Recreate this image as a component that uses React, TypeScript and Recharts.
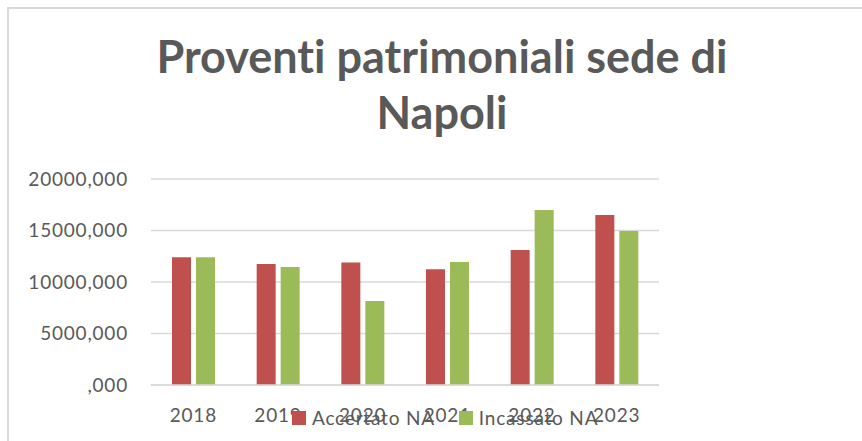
import {
  BarChart,
  Bar,
  XAxis,
  YAxis,
  CartesianGrid,
  Legend,
} from "recharts";

const years = ["2018", "2019", "2020", "2021", "2022", "2023"];
const accertatoNA = [12400, 11750, 11900, 11250, 13100, 16500];
const incassatoNA = [12400, 11450, 8150, 11950, 17000, 14950];
const yTicks = [0, 5000, 10000, 15000, 20000];
const yTickLabels = [",000", "5000,000", "10000,000", "15000,000", "20000,000"];

const data = years.map((year, i) => ({
  year,
  accertato: accertatoNA[i],
  incassato: incassatoNA[i],
}));

const FONT = "Lato, 'Open Sans', sans-serif";
const TEXT = "#595959";

const LegendContent = ({ payload }: any) => (
  <div style={{ display: "flex", fontFamily: FONT, fontSize: 19, color: TEXT, letterSpacing: 0.8, whiteSpace: "nowrap" }}>
    {(payload || []).map((p: any, i: number) => (
      <div key={p.value} style={{ display: "flex", alignItems: "center", marginLeft: i ? 24 : 0 }}>
        <span style={{ width: 14, height: 14, background: p.color, marginRight: 6, display: "inline-block" }} />
        <span>{p.value}</span>
      </div>
    ))}
  </div>
);

export default function App() {
  return (
    <div style={{ position: "absolute", left: 0, top: 0, width: 862, height: 441, overflow: "hidden", background: "#fff" }}>
      <div
        style={{
          position: "absolute",
          left: 7,
          top: 7,
          width: 900,
          height: 500,
          borderTop: "2px solid #d9d9d9",
          borderLeft: "2px solid #d9d9d9",
        }}
      />
      <div
        style={{
          position: "absolute",
          left: 0,
          top: 28,
          width: 884,
          textAlign: "center",
          fontFamily: FONT,
          fontWeight: 700,
          fontSize: 45,
          lineHeight: "56px",
          color: TEXT,
          fontVariantLigatures: "none",
        }}
      >
        Proventi patrimoniali sede di
        <br />
        Napoli
      </div>
      <div style={{ position: "absolute", left: 0, top: 0 }}>
        <BarChart
          width={862}
          height={441}
          data={data}
          margin={{ top: 179, right: 203, bottom: 26, left: 0 }}
          barSize={19}
          barGap={5}
        >
          <CartesianGrid vertical={false} stroke="#d9d9d9" strokeWidth={1.5} />
          <XAxis
            dataKey="year"
            height={30}
            axisLine={{ stroke: "#d9d9d9", strokeWidth: 1.5 }}
            tickLine={false}
            tickSize={0}
            tickMargin={24}
            interval={0}
            tick={{ fill: TEXT, fontSize: 19, fontFamily: FONT, letterSpacing: 0.8 }}
          />
          <YAxis
            width={151}
            domain={[0, 20000]}
            ticks={yTicks}
            axisLine={false}
            tickLine={false}
            tickSize={0}
            tickMargin={23}
            tickFormatter={(v: number) => yTickLabels[yTicks.indexOf(v)]}
            tick={{ fill: TEXT, fontSize: 19, fontFamily: FONT, letterSpacing: 0.8 }}
          />
          <Legend
            verticalAlign="middle"
            align="center"
            layout="horizontal"
            content={<LegendContent />}
            wrapperStyle={{ position: "absolute", left: 292, top: 406, width: 0, height: 0, overflow: "visible" }}
          />
          <Bar dataKey="accertato" name="Accertato NA" fill="#c0504d" isAnimationActive={false} />
          <Bar dataKey="incassato" name="Incassato NA" fill="#9bbb59" isAnimationActive={false} />
        </BarChart>
      </div>
    </div>
  );
}
